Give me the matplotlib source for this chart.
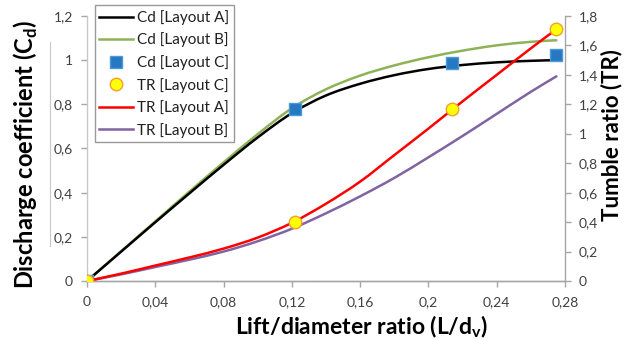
import matplotlib
matplotlib.use("Agg")
import matplotlib.pyplot as plt
from matplotlib.ticker import FuncFormatter
from matplotlib.lines import Line2D
from matplotlib.path import Path
from matplotlib.patches import PathPatch

plt.rcParams['font.family'] = ['Lato', 'DejaVu Sans']
plt.rcParams['mathtext.fontset'] = 'custom'
plt.rcParams['mathtext.rm'] = 'Lato'
plt.rcParams['mathtext.bf'] = 'Lato:bold'

# ---- data ----
x_line = [0, 0.02, 0.04, 0.06, 0.08, 0.10, 0.12, 0.14, 0.16, 0.18, 0.20, 0.22, 0.24, 0.26, 0.275]
cd_a = [0, 0.133, 0.266, 0.397, 0.526, 0.65, 0.76, 0.84, 0.893, 0.932, 0.96, 0.978, 0.99, 0.997, 1.0]
cd_b = [0, 0.135, 0.27, 0.405, 0.537, 0.665, 0.782, 0.868, 0.93, 0.976, 1.013, 1.043, 1.067, 1.083, 1.09]
tr_a = [0, 0.05, 0.105, 0.16, 0.22, 0.295, 0.395, 0.525, 0.675, 0.855, 1.035, 1.22, 1.40, 1.58, 1.71]
tr_b = [0, 0.045, 0.095, 0.145, 0.20, 0.27, 0.355, 0.46, 0.575, 0.70, 0.84, 0.985, 1.135, 1.285, 1.39]

x_c = [0, 0.122, 0.214, 0.275]
cd_c = [0, 0.78, 0.985, 1.025]
tr_c = [0, 0.40, 1.17, 1.71]

x_ticks = [0, 0.04, 0.08, 0.12, 0.16, 0.20, 0.24, 0.28]
cd_ticks = [0, 0.2, 0.4, 0.6, 0.8, 1.0, 1.2]
tr_ticks = [0, 0.2, 0.4, 0.6, 0.8, 1.0, 1.2, 1.4, 1.6, 1.8]


def smooth_line(axis, xs, ys, **kw):
    """Draw a smoothed (Excel-like) line through the points using Bezier segments."""
    n = len(xs)
    verts = [(xs[0], ys[0])]
    codes = [Path.MOVETO]
    for i in range(n - 1):
        x0, y0 = xs[max(i - 1, 0)], ys[max(i - 1, 0)]
        x1, y1 = xs[i], ys[i]
        x2, y2 = xs[i + 1], ys[i + 1]
        x3, y3 = xs[min(i + 2, n - 1)], ys[min(i + 2, n - 1)]
        c1 = (x1 + (x2 - x0) / 6.0, y1 + (y2 - y0) / 6.0)
        c2 = (x2 - (x3 - x1) / 6.0, y2 - (y3 - y1) / 6.0)
        verts += [c1, c2, (x2, y2)]
        codes += [Path.CURVE4] * 3
    patch = PathPatch(Path(verts, codes), facecolor='none', edgecolor=kw['color'],
                      lw=kw.get('lw', 1.8), zorder=kw.get('zorder', 2),
                      capstyle='round', joinstyle='round')
    axis.add_patch(patch)
    return Line2D([], [], color=kw['color'], lw=kw.get('lw', 1.8), label=kw['label'])


# ---- figure ----
fig = plt.figure(figsize=(6.42, 3.40), dpi=100)
ax = fig.add_axes([0.1355, 0.1735, 0.7445, 0.7795])
ax2 = ax.twinx()

green = '#8DB356'
purple = '#8064A2'
h1 = smooth_line(ax, x_line, cd_a, color='black', lw=1.8, label='Cd [Layout A]', zorder=3)
h2 = smooth_line(ax, x_line, cd_b, color=green, lw=1.8, label='Cd [Layout B]', zorder=2)
h3, = ax.plot(x_c, cd_c, ls='none', marker='s', ms=8.5, mfc='#2678C0', mec='#4A9ADB',
              mew=1.0, label='Cd [Layout C]', zorder=5)
h5 = smooth_line(ax2, x_line, tr_a, color='#FF0000', lw=1.8, label='TR [Layout A]', zorder=3)
h6 = smooth_line(ax2, x_line, tr_b, color=purple, lw=1.8, label='TR [Layout B]', zorder=2)
h4, = ax2.plot(x_c, tr_c, ls='none', marker='o', ms=9, mfc='#FFFF00', mec='#F0A030',
               mew=1.0, label='TR [Layout C]', zorder=5)

ax.set_xlim(0, 0.28)
ax.set_ylim(0, 1.2)
ax2.set_ylim(0, 1.8)
ax.set_xticks(x_ticks)
ax.set_yticks(cd_ticks)
ax2.set_yticks(tr_ticks)

comma = FuncFormatter(lambda v, p: ('%g' % round(v, 4)).replace('.', ','))
ax.xaxis.set_major_formatter(comma)
ax.yaxis.set_major_formatter(comma)
ax2.yaxis.set_major_formatter(comma)

gray = '#A6A6A6'
for a in (ax, ax2):
    a.spines['top'].set_visible(False)
    for s in ('left', 'right', 'bottom'):
        a.spines[s].set_color(gray)
        a.spines[s].set_linewidth(1.0)
    a.tick_params(direction='out', length=4, width=1, color=gray,
                  labelsize=10, labelcolor='#404040')
ax.spines['left'].set_color('#C8C8C8')
ax.spines['right'].set_visible(False)
ax2.spines['left'].set_visible(False)
ax.tick_params(axis='y', pad=6)
ax2.tick_params(axis='y', pad=6)
ax.tick_params(axis='x', pad=7)

ax.set_xlabel('Lift/diameter ratio (L/d$_\\mathbf{v}$)', fontsize=16.5,
              fontweight='bold', va='center')
ax.set_ylabel('Discharge coefficient (C$_\\mathbf{d}$)', fontsize=17,
              fontweight='bold', va='center')
ax2.set_ylabel('Tumble ratio (TR)', fontsize=16, fontweight='bold', va='center')
ax.xaxis.set_label_coords(0.575, -0.172)
ax.yaxis.set_label_coords(-0.128, 0.479)
ax2.yaxis.set_label_coords(1.098, 0.551)

leg = ax2.legend(handles=[h1, h2, h3, h4, h5, h6], loc='upper left',
                 bbox_to_anchor=(0.016, 1.04), fontsize=11, frameon=True,
                 fancybox=False, edgecolor='#808080', handlelength=2.2,
                 handletextpad=0.3, borderpad=0.3, labelspacing=0.5,
                 borderaxespad=0.0)
leg.get_frame().set_linewidth(1.0)
for t in leg.get_texts():
    t.set_color('#202020')

# faint stray guide lines present in the source image
art = dict(color='#C8C8C8', lw=0.8, transform=fig.transFigure, zorder=0)
fig.add_artist(Line2D([318/642, 318/642], [1-253/340, 1-281/340], **art))
fig.add_artist(Line2D([318/642, 371/642], [1-253/340, 1-253/340], **art))
fig.add_artist(Line2D([527/642, 527/642], [1-108/340, 1-253/340], **art))
fig.add_artist(Line2D([555/642, 555/642], [1-108/340, 1-253/340], **art))
fig.add_artist(Line2D([50/642, 50/642], [1-42/340, 1-246/340], **art))

fig.savefig('out.png', dpi=100)
